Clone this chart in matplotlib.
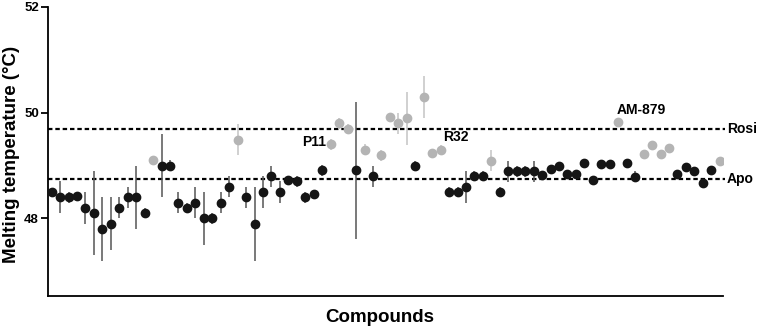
import matplotlib
matplotlib.use("Agg")
import matplotlib.pyplot as plt
import numpy as np

plt.rcParams['font.family'] = ['Liberation Sans', 'DejaVu Sans']

# ---- data ----
tm_values = [48.50, 48.40, 48.40, 48.43, 48.20, 48.10, 47.80, 47.90, 48.20, 48.40,
             48.40, 48.10, 49.11, 49.00, 49.00, 48.30, 48.20, 48.30, 48.00, 48.00,
             48.30, 48.60, 49.49, 48.40, 47.90, 48.50, 48.80, 48.50, 48.72, 48.70,
             48.40, 48.47, 48.91, 49.40, 49.80, 49.69, 48.91, 49.30, 48.80, 49.19,
             49.92, 49.80, 49.89, 48.99, 50.29, 49.23, 49.30, 48.50, 48.50, 48.59,
             48.80, 48.80, 49.09, 48.50, 48.89, 48.89, 48.89, 48.89, 48.83, 48.94,
             48.99, 48.84, 48.84, 49.04, 48.72, 49.03, 49.03, 49.82, 49.04, 48.79,
             49.21, 49.38, 49.21, 49.33, 48.84, 48.98, 48.89, 48.67, 48.92, 49.09]
tm_errors = [0.08, 0.30, 0.10, 0.05, 0.30, 0.80, 0.60, 0.50, 0.20, 0.20,
             0.60, 0.10, 0.00, 0.60, 0.10, 0.20, 0.10, 0.30, 0.50, 0.10,
             0.20, 0.20, 0.30, 0.20, 0.70, 0.30, 0.20, 0.20, 0.00, 0.10,
             0.10, 0.05, 0.10, 0.10, 0.10, 0.10, 1.30, 0.10, 0.20, 0.10,
             0.05, 0.20, 0.50, 0.10, 0.40, 0.05, 0.08, 0.10, 0.10, 0.30,
             0.10, 0.10, 0.20, 0.10, 0.20, 0.10, 0.10, 0.20, 0.00, 0.00,
             0.00, 0.00, 0.00, 0.00, 0.00, 0.00, 0.00, 0.00, 0.00, 0.10,
             0.00, 0.00, 0.00, 0.00, 0.00, 0.00, 0.00, 0.00, 0.00, 0.00]
# 1 = stabilising compound (grey), 0 = other (black)
is_hit = [0, 0, 0, 0, 0, 0, 0, 0, 0, 0,
          0, 0, 1, 0, 0, 0, 0, 0, 0, 0,
          0, 0, 1, 0, 0, 0, 0, 0, 0, 0,
          0, 0, 0, 1, 1, 1, 0, 1, 0, 1,
          1, 1, 1, 0, 1, 1, 1, 0, 0, 0,
          0, 0, 1, 0, 0, 0, 0, 0, 0, 0,
          0, 0, 0, 0, 0, 0, 0, 1, 0, 0,
          1, 1, 1, 1, 0, 0, 0, 0, 0, 1]
ref_names = ["Rosi", "Apo"]
ref_values = [49.70, 48.74]
labeled = {"P11": 33, "R32": 46, "AM-879": 67}
yticks = [48, 50, 52]

# ---- plot ----
fig = plt.figure(figsize=(7.6, 3.33), dpi=100)
ax = fig.add_axes([0.063, 0.111, 0.888, 0.868])

x = np.arange(len(tm_values))
vals = np.array(tm_values)
errs = np.array(tm_errors)
hit = np.array(is_hit, dtype=bool)

ax.errorbar(x[~hit], vals[~hit], yerr=errs[~hit], fmt='o', color='#151515',
            ecolor='#555555', elinewidth=1.1, capsize=0, markersize=6, zorder=3)
ax.errorbar(x[hit], vals[hit], yerr=errs[hit], fmt='o', color='#b4b4b4',
            ecolor='#c4c4c4', elinewidth=1.1, capsize=0, markersize=6, zorder=3)

for name, v in zip(ref_names, ref_values):
    ax.axhline(v, xmin=0, xmax=1.003, color='black', lw=1.6,
               linestyle=(0, (2.0, 1.3)), zorder=2, clip_on=False)
    ax.annotate(name, xy=(1.006, v), xycoords=('axes fraction', 'data'),
                ha='left', va='center', fontsize=10, fontweight='bold')

offsets = {"P11": (-3, 2, 'right'), "R32": (2, 9, 'left'), "AM-879": (-1, 8.5, 'left')}
for name, idx in labeled.items():
    dx, dy, ha = offsets[name]
    ax.annotate(name, xy=(idx, tm_values[idx]), xytext=(dx, dy),
                textcoords='offset points', ha=ha, va='center',
                fontsize=10, fontweight='bold')

ax.set_xlim(-0.44, len(tm_values) - 1 + 0.36)
ax.set_ylim(46.53, 52)
ax.set_yticks(yticks)
ax.set_yticklabels([str(t) for t in yticks], fontsize=9.5, fontweight='bold')
ax.set_xticks([])
ax.tick_params(axis='y', length=5, width=1.3, pad=1.5)
for s in ['top', 'right']:
    ax.spines[s].set_visible(False)
for s in ['left', 'bottom']:
    ax.spines[s].set_linewidth(1.3)

ax.set_ylabel('Melting temperature (°C)', fontsize=13.5, fontweight='bold')
ax.yaxis.set_label_coords(-0.042, 0.49)
ax.set_xlabel('Compounds', fontsize=13.5, fontweight='bold')
ax.xaxis.set_label_coords(0.492, -0.045)

fig.savefig('out.png', dpi=100)
